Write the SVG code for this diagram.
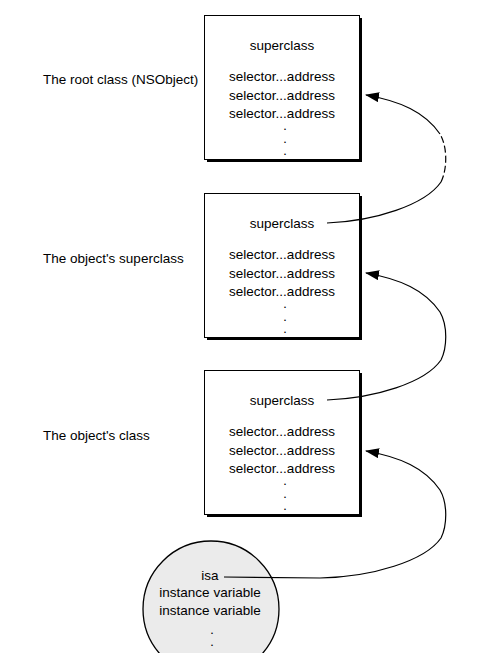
<svg xmlns="http://www.w3.org/2000/svg" width="503" height="653" viewBox="0 0 503 653">
<style>
text{font-family:"Liberation Sans",Arial,sans-serif;font-size:13.5px;fill:#000}
.c{text-anchor:middle}
text.d{font-size:9px;font-weight:bold}
.box{fill:#fff;stroke:#000;stroke-width:1}
.sh{fill:#000}
.ln{fill:none;stroke:#000;stroke-width:1.2}
</style>
<defs>
<marker id="ah" viewBox="0 0 14 10" refX="13" refY="5" markerWidth="14" markerHeight="10" markerUnits="userSpaceOnUse" orient="auto">
<path d="M0,0 L14,5 L0,10 Z" fill="#000"/>
</marker>
</defs>
<rect width="503" height="653" fill="#fff"/>
<g id="label-root"><text x="43" y="84">The root class (NSObject)</text></g>
<g id="label-super"><text x="43" y="263">The object's superclass</text></g>
<g id="label-class"><text x="43" y="440">The object's class</text></g>
<g id="root-class">
<rect class="sh" x="207" y="18" width="155" height="144"/>
<rect class="box" x="204.5" y="15.5" width="155" height="144"/>
<text class="c" x="282" y="50">superclass</text>
<text class="c" x="282" y="81">selector...address</text>
<text class="c" x="282" y="99.5">selector...address</text>
<text class="c" x="282" y="118">selector...address</text>
<text class="c d" x="285" y="130">.</text>
<text class="c d" x="285" y="143">.</text>
<text class="c d" x="285" y="155">.</text>
</g>
<g id="superclass">
<rect class="sh" x="207" y="196" width="155" height="144"/>
<rect class="box" x="204.5" y="193.5" width="155" height="144"/>
<text class="c" x="282" y="228">superclass</text>
<text class="c" x="282" y="259">selector...address</text>
<text class="c" x="282" y="277.5">selector...address</text>
<text class="c" x="282" y="296">selector...address</text>
<text class="c d" x="285" y="308">.</text>
<text class="c d" x="285" y="321">.</text>
<text class="c d" x="285" y="333">.</text>
</g>
<g id="class">
<rect class="sh" x="207" y="373" width="155" height="144"/>
<rect class="box" x="204.5" y="370.5" width="155" height="144"/>
<text class="c" x="282" y="405">superclass</text>
<text class="c" x="282" y="436">selector...address</text>
<text class="c" x="282" y="454.5">selector...address</text>
<text class="c" x="282" y="473">selector...address</text>
<text class="c d" x="285" y="485">.</text>
<text class="c d" x="285" y="498">.</text>
<text class="c d" x="285" y="510">.</text>
</g>
<g id="object">
<circle cx="211" cy="609" r="68" fill="#ebebeb" stroke="#000" stroke-width="1.3"/>
<text class="c" x="210" y="580">isa</text>
<text class="c" x="210" y="597">instance variable</text>
<text class="c" x="210" y="615">instance variable</text>
<text class="c d" x="212" y="634">.</text>
<text class="c d" x="212" y="646">.</text>
</g>
<g id="connectors">
<path class="ln" d="M327,223 C375,221 425,205 441,182"/>
<path class="ln" stroke-dasharray="7,3" d="M441,182 C447,170 448,148 440,134"/>
<path class="ln" marker-end="url(#ah)" d="M440,134 C425,112 400,101 366,95"/>
<path class="ln" marker-end="url(#ah)" d="M327,400 C375,398 425,383 441,360 C447,348 448,326 440,312 C425,290 400,279 366,273"/>
<path class="ln" marker-end="url(#ah)" d="M224,577 L320,578 C372,577 425,561 441,538 C447,526 448,504 440,490 C425,468 400,457 366,451"/>
</g>
</svg>
